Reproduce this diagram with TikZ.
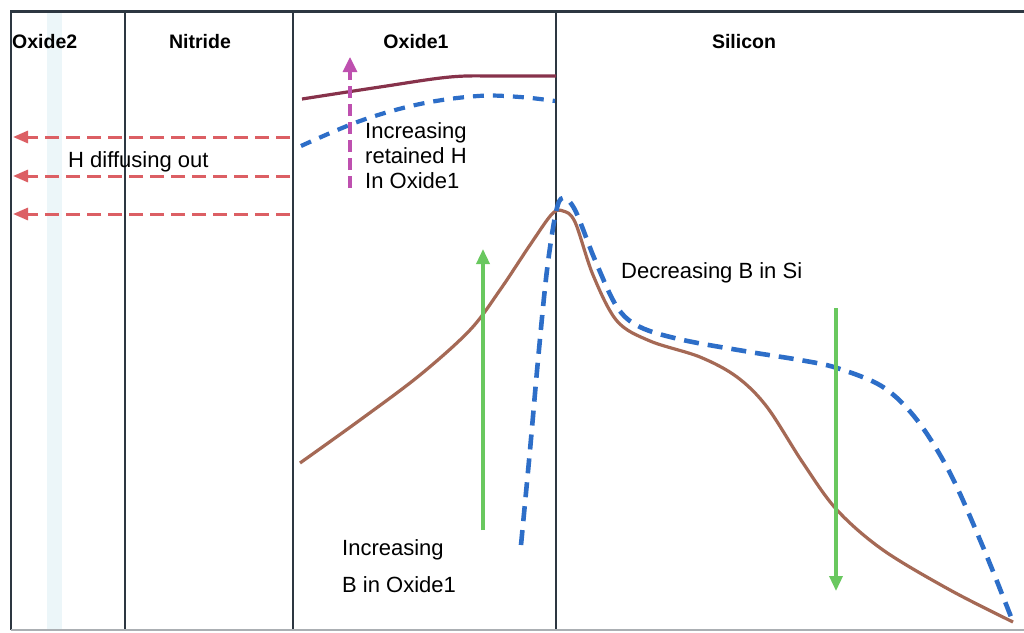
\documentclass[tikz,border=0pt]{standalone}
\usepackage{fontspec}
\setmainfont{Liberation Sans}
\usetikzlibrary{arrows.meta}
\definecolor{frame}{RGB}{45,55,65}
\definecolor{hred}{RGB}{220,95,100}
\definecolor{hpurp}{RGB}{190,80,175}
\definecolor{maroon}{RGB}{135,50,75}
\definecolor{brown}{RGB}{165,105,85}
\definecolor{bdash}{RGB}{45,110,200}
\definecolor{gr}{RGB}{105,200,95}
\definecolor{stripe}{RGB}{236,246,249}
\begin{document}
\begin{tikzpicture}[x=1pt,y=-1pt,
  framel/.style={draw=frame,line width=1.8pt},
  hdr/.style={font=\bfseries\fontsize{19.5}{22}\selectfont,inner sep=0pt},
  lbl/.style={font=\fontsize{22}{25}\selectfont,inner sep=0pt,anchor=west,align=left},
  harrow/.style={draw=hred,line width=3pt,dash pattern=on 14pt off 7pt,-{Triangle[length=15pt,width=12pt]}},
  garrow/.style={draw=gr,line width=3.4pt,-{Triangle[length=15pt,width=13pt]}},
  solidcurve/.style={line width=3.2pt},
  dashcurve/.style={draw=bdash,line width=4.6pt,dash pattern=on 15pt off 9pt}
]
\useasboundingbox (0,0) rectangle (1024,632);
\fill[white] (0,0) rectangle (1024,632);
% faint stripe in Oxide2
\fill[stripe] (47,12) rectangle (62,630);
% frame
\draw[framel] (11,630) -- (11,11) -- (1024,11);
\draw[draw=frame,line width=3pt] (11,11) -- (1024,11);
\draw[framel] (125,11) -- (125,630);
\draw[framel] (293,11) -- (293,630);
\draw[draw=frame,line width=1.5pt] (556,11) -- (556,630);
\draw[draw=frame!40,line width=1.2pt] (11,630) -- (1024,630);
% headers
\node[hdr,anchor=west] (ox2) at (12,42) {Oxide2};
\node[hdr] (nit) at (200,42) {Nitride};
\node[hdr] (ox1) at (416,42) {Oxide1};
\node[hdr] (si) at (744,42) {Silicon};
% H diffusing out
\coordinate (h1s) at (290,137); \coordinate (h1e) at (13,137);
\coordinate (h2s) at (290,176); \coordinate (h2e) at (13,176);
\coordinate (h3s) at (290,214); \coordinate (h3e) at (13,214);
\draw[harrow] (h1s) -- (h1e);
\draw[harrow] (h2s) -- (h2e);
\draw[harrow] (h3s) -- (h3e);
\node[lbl] (hdiff) at (68,162) {H diffusing out};
% retained H curves
\draw[draw=maroon,solidcurve] plot[smooth,tension=0.6] coordinates {(302,99) (380,87) (450,77) (500,76) (556,76)};
\draw[dashcurve,line width=4.2pt,dash pattern=on 11pt off 9pt] plot[smooth,tension=0.6] coordinates {(301,146) (360,121) (420,104) (478,96) (520,97) (555,101)};
\coordinate (pa) at (350,188); \coordinate (pb) at (350,57);
\draw[draw=hpurp,line width=3.2pt,dash pattern=on 12pt off 6pt,-{Triangle[length=15pt,width=14pt]}] (pa) -- (pb);
\node[lbl] (ret) at (365,156) {Increasing\\retained H\\In Oxide1};
% boron brown curve
\draw[draw=brown,solidcurve] plot[smooth,tension=0.55] coordinates {(300,463) (360,420) (420,375) (470,330) (500,290) (530,245) (552,214) (563,211) (575,222) (593,275) (617,321) (650,341) (700,357) (737,377) (767,407) (803,463) (837,510) (883,550) (950,590) (1013,622)};
% boron blue dashed curve
\draw[dashcurve] plot[smooth,tension=0.55] coordinates {(521,545) (530,450) (538,360) (547,270) (556,212) (563,198) (575,210) (595,260) (617,307) (640,327) (683,340) (750,352) (800,360) (837,368) (883,387) (917,420) (950,473) (983,547) (1013,622)};
% green arrows
\coordinate (g1s) at (483,530); \coordinate (g1e) at (483,249);
\draw[garrow] (g1s) -- (g1e);
\coordinate (g2s) at (836,308); \coordinate (g2e) at (836,591);
\draw[garrow] (g2s) -- (g2e);
\node[lbl] (decB) at (621,273) {Decreasing B in Si};
\node[lbl] (incB) at (342,550) {Increasing};
\node[lbl] (incB2) at (342,585) {B in Oxide1};
\end{tikzpicture}
\end{document}
